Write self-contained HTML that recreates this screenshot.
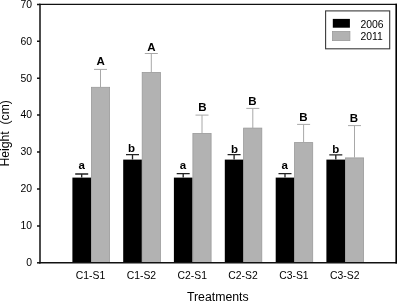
<!DOCTYPE html>
<html><head><meta charset="utf-8"><style>
html,body{margin:0;padding:0;background:#fff;width:397px;height:302px;overflow:hidden}
svg{display:block;filter:grayscale(1)}
text{font-family:"Liberation Sans",sans-serif}
.t{font-size:10.4px;fill:#000}
.l{font-size:11.5px;font-weight:bold;fill:#000;text-anchor:middle}
</style></head><body>
<svg width="397" height="302" viewBox="0 0 397 302">
<rect x="0" y="0" width="397" height="302" fill="#fff"/>
<!-- bars black -->
<g fill="#000">
<rect x="72.4" y="177.6" width="18.7" height="84.8"/>
<rect x="123.2" y="159.6" width="18.7" height="103"/>
<rect x="173.9" y="177.6" width="18.7" height="84.8"/>
<rect x="224.8" y="159.6" width="18.7" height="103"/>
<rect x="275.7" y="177.6" width="18.7" height="84.8"/>
<rect x="326.4" y="159.6" width="18.7" height="103"/>
</g>
<!-- bars gray -->
<g fill="#b2b2b2" stroke="#9a9a9a" stroke-width="0.8">
<rect x="91.4" y="87.3" width="18.2" height="175.1"/>
<rect x="142.2" y="72.4" width="18.2" height="190"/>
<rect x="192.9" y="133.4" width="18.2" height="129"/>
<rect x="243.6" y="128.1" width="18.2" height="134.3"/>
<rect x="294.5" y="142.6" width="18.2" height="119.8"/>
<rect x="345.4" y="157.9" width="18.2" height="104.5"/>
</g>
<!-- error bars black -->
<g stroke="#222" stroke-width="1.3" fill="none">
<path d="M81.7 177.6V174M75.2 174H88.2"/>
<path d="M132.5 159.6V154.7M126 154.7H139"/>
<path d="M183.2 177.6V173.7M176.7 173.7H189.7"/>
<path d="M234.1 159.6V154.7M227.6 154.7H240.6"/>
<path d="M285 177.6V173.7M278.5 173.7H291.5"/>
<path d="M335.8 159.6V154.8M329.3 154.8H342.3"/>
</g>
<!-- error bars gray -->
<g stroke="#a8a8a8" stroke-width="1" fill="none">
<path d="M100.5 87V69.4M94 69.4H107"/>
<path d="M151.3 72V53.5M144.8 53.5H157.8"/>
<path d="M202 133V115.1M195.5 115.1H208.5"/>
<path d="M252.8 128V108.4M246.3 108.4H259.3"/>
<path d="M303.6 142.3V124.4M297.1 124.4H310.1"/>
<path d="M354.5 157.6V125.6M348 125.6H361"/>
</g>
<!-- letters -->
<text class="l" x="81.7" y="169">a</text>
<text class="l" x="100.6" y="65.4">A</text>
<text class="l" x="131.4" y="152.4">b</text>
<text class="l" x="151.4" y="50.7">A</text>
<text class="l" x="183" y="168.9">a</text>
<text class="l" x="202.5" y="111.4">B</text>
<text class="l" x="234.4" y="152.6">b</text>
<text class="l" x="252.4" y="104.9">B</text>
<text class="l" x="284.8" y="168.9">a</text>
<text class="l" x="303.3" y="121.4">B</text>
<text class="l" x="335.8" y="152.6">b</text>
<text class="l" x="353.8" y="121.9">B</text>
<!-- frame -->
<g stroke="#111" fill="none">
<path d="M39.3 4.4H397" stroke-width="1.4"/>
<path d="M40 3.7V263.5" stroke-width="1.5"/>
<path d="M39.3 262.8H397" stroke-width="1.5"/>
<path d="M396.2 3.7V263.5" stroke-width="1.6" stroke="#000"/>
<path d="M37 4.4H40M37 41.3H40M37 78.2H40M37 115.1H40M37 152.1H40M37 189H40M37 225.9H40" stroke-width="1.5"/>
<path d="M37 262.8H40" stroke-width="1.5"/>
</g>
<!-- y tick labels -->
<g class="t" text-anchor="end">
<text x="32" y="7.7">70</text>
<text x="32" y="44.6">60</text>
<text x="32" y="81.5">50</text>
<text x="32" y="118.4">40</text>
<text x="32" y="155.4">30</text>
<text x="32" y="192.3">20</text>
<text x="32" y="229.2">10</text>
<text x="32" y="266.1">0</text>
</g>
<!-- x tick labels -->
<g class="t" text-anchor="middle">
<text x="90.5" y="278.7">C1-S1</text>
<text x="141.4" y="278.7">C1-S2</text>
<text x="192.2" y="278.7">C2-S1</text>
<text x="243" y="278.7">C2-S2</text>
<text x="293.9" y="278.7">C3-S1</text>
<text x="344.7" y="278.7">C3-S2</text>
</g>
<text x="217.8" y="301.4" text-anchor="middle" style="font-size:12.3px">Treatments</text>
<text transform="translate(9.2,133.3) rotate(-90)" text-anchor="middle" style="font-size:12.2px;white-space:pre" xml:space="preserve">Height  (cm)</text>
<!-- legend -->
<rect x="325.6" y="10.9" width="64.1" height="37.9" fill="#fff" stroke="#3a3a3a" stroke-width="1.1"/>
<rect x="332.8" y="18.9" width="17.1" height="8.8" fill="#000"/>
<rect x="332.5" y="31.5" width="17.4" height="9.1" fill="#b2b2b2" stroke="#9a9a9a" stroke-width="0.8"/>
<text class="t" x="360.5" y="27.6">2006</text>
<text class="t" x="360.5" y="39.9">2011</text>
</svg>
</body></html>
